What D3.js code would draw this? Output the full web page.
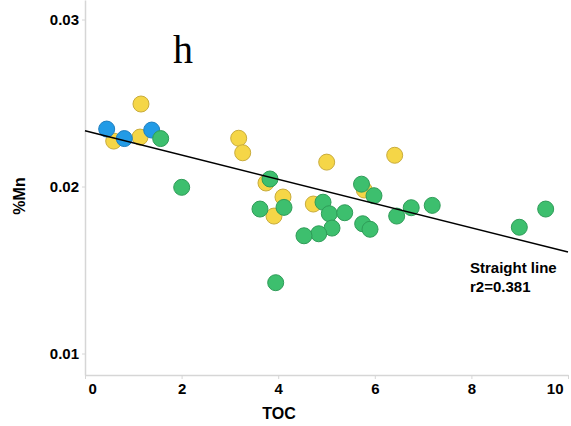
<!DOCTYPE html>
<html><head><meta charset="utf-8">
<script src="https://cdn.jsdelivr.net/npm/d3@7"></script>
<style>html,body{margin:0;padding:0;background:#fff;}svg{display:block;}</style>
</head><body>
<svg id="chart" width="571" height="426"></svg>
<script>
const xTicks = [0, 2, 4, 6, 8, 10];
const yTicks = [0.01, 0.02, 0.03];
const yTickLabels = ["0.01", "0.02", "0.03"];

const yellowTOC = [0.594, 1.139, 1.159, 3.182, 3.265, 3.747, 4.099, 3.913, 4.727, 5.004, 6.412, 5.783];
const yellowMn  = [0.02272, 0.02296, 0.02494, 0.02289, 0.02202, 0.02021, 0.01937, 0.01823, 0.01895, 0.02146, 0.02187, 0.01979];

const blueTOC = [0.449, 0.814, 1.381];
const blueMn  = [0.02344, 0.02287, 0.02338];

const greenTOC = [1.567, 2.002, 3.830, 3.623, 4.120, 4.928, 5.058, 5.377, 5.725, 5.983, 6.453, 6.754, 7.189, 5.749, 5.901, 5.114, 4.839, 4.534, 3.948, 8.992, 9.538];
const greenMn  = [0.02287, 0.01995, 0.02045, 0.01865, 0.01875, 0.01906, 0.01837, 0.01843, 0.02014, 0.01945, 0.01823, 0.01873, 0.01887, 0.01777, 0.01744, 0.01751, 0.01717, 0.01705, 0.01424, 0.01756, 0.01865];

const fitIntercept = 0.02334;
const fitSlope = -0.000726;
const fitX = [0, 10];

const svg = d3.select("#chart");
const x = d3.scaleLinear().domain([0, 10]).range([85, 568]);
const y = d3.scaleLinear().domain([0.008713, 0.031168]).range([375, 0]);

const axisColor = "#d6d6d6";
const font = "Liberation Sans, Arial, sans-serif";

// x axis
const gx = svg.append("g").attr("transform", "translate(0,375)")
  .call(d3.axisBottom(x).tickValues(xTicks).tickSize(4).tickSizeOuter(0).tickFormat(d3.format("d")));
gx.select(".domain").attr("stroke", axisColor).attr("stroke-width", 1.5);
gx.selectAll(".tick line").attr("stroke", axisColor);
gx.selectAll(".tick text").attr("font-family", font).attr("font-weight", "bold")
  .attr("font-size", 15).attr("fill", "#000").attr("y", 8).attr("dy", "0.71em")
  .attr("text-anchor", (d, i) => i === 0 ? "start" : (i === xTicks.length - 1 ? "end" : "middle"))
  .attr("dx", (d, i) => i === 0 ? 3 : (i === xTicks.length - 1 ? -5 : 0));

// y axis
const gy = svg.append("g").attr("transform", "translate(85,0)")
  .call(d3.axisLeft(y).tickValues(yTicks).tickSize(3).tickSizeOuter(0).tickFormat((d, i) => yTickLabels[i]));
gy.select(".domain").attr("stroke", axisColor).attr("stroke-width", 1.5);
gy.selectAll(".tick line").attr("stroke", axisColor);
gy.selectAll(".tick text").attr("font-family", font).attr("font-weight", "bold")
  .attr("font-size", 15).attr("fill", "#000").attr("x", -6);

// axis titles
svg.append("text").attr("x", 279).attr("y", 419).attr("text-anchor", "middle")
  .attr("font-family", font).attr("font-weight", "bold").attr("font-size", 16).text("TOC");
svg.append("text").attr("transform", "translate(25,196) rotate(-90)").attr("text-anchor", "middle")
  .attr("font-family", font).attr("font-weight", "bold").attr("font-size", 16).text("%Mn");

// panel letter
svg.append("text").attr("x", 183).attr("y", 63).attr("text-anchor", "middle")
  .attr("font-family", "Liberation Serif, Times New Roman, serif").attr("font-size", 40).text("h");

function drawPoints(xs, ys, fill, stroke) {
  svg.append("g").selectAll("circle").data(xs.map((v, i) => [v, ys[i]])).join("circle")
    .attr("cx", d => x(d[0])).attr("cy", d => y(d[1])).attr("r", 8)
    .attr("fill", fill).attr("stroke", stroke).attr("stroke-width", 1);
}
drawPoints(yellowTOC, yellowMn, "#f5d647", "#c9ac3c");
drawPoints(blueTOC, blueMn, "#229be6", "#1f7fc0");
drawPoints(greenTOC, greenMn, "#3dbf6e", "#2f9c58");

// regression line
svg.append("path")
  .attr("d", d3.line().x(d => x(d)).y(d => y(fitIntercept + fitSlope * d))(fitX))
  .attr("stroke", "#000").attr("stroke-width", 1.5).attr("fill", "none");

svg.append("text").attr("x", 470).attr("y", 273).attr("font-family", font)
  .attr("font-weight", "bold").attr("font-size", 15).text("Straight line");
svg.append("text").attr("x", 470).attr("y", 292).attr("font-family", font)
  .attr("font-weight", "bold").attr("font-size", 15).text("r2=0.381");
</script>
</body></html>
